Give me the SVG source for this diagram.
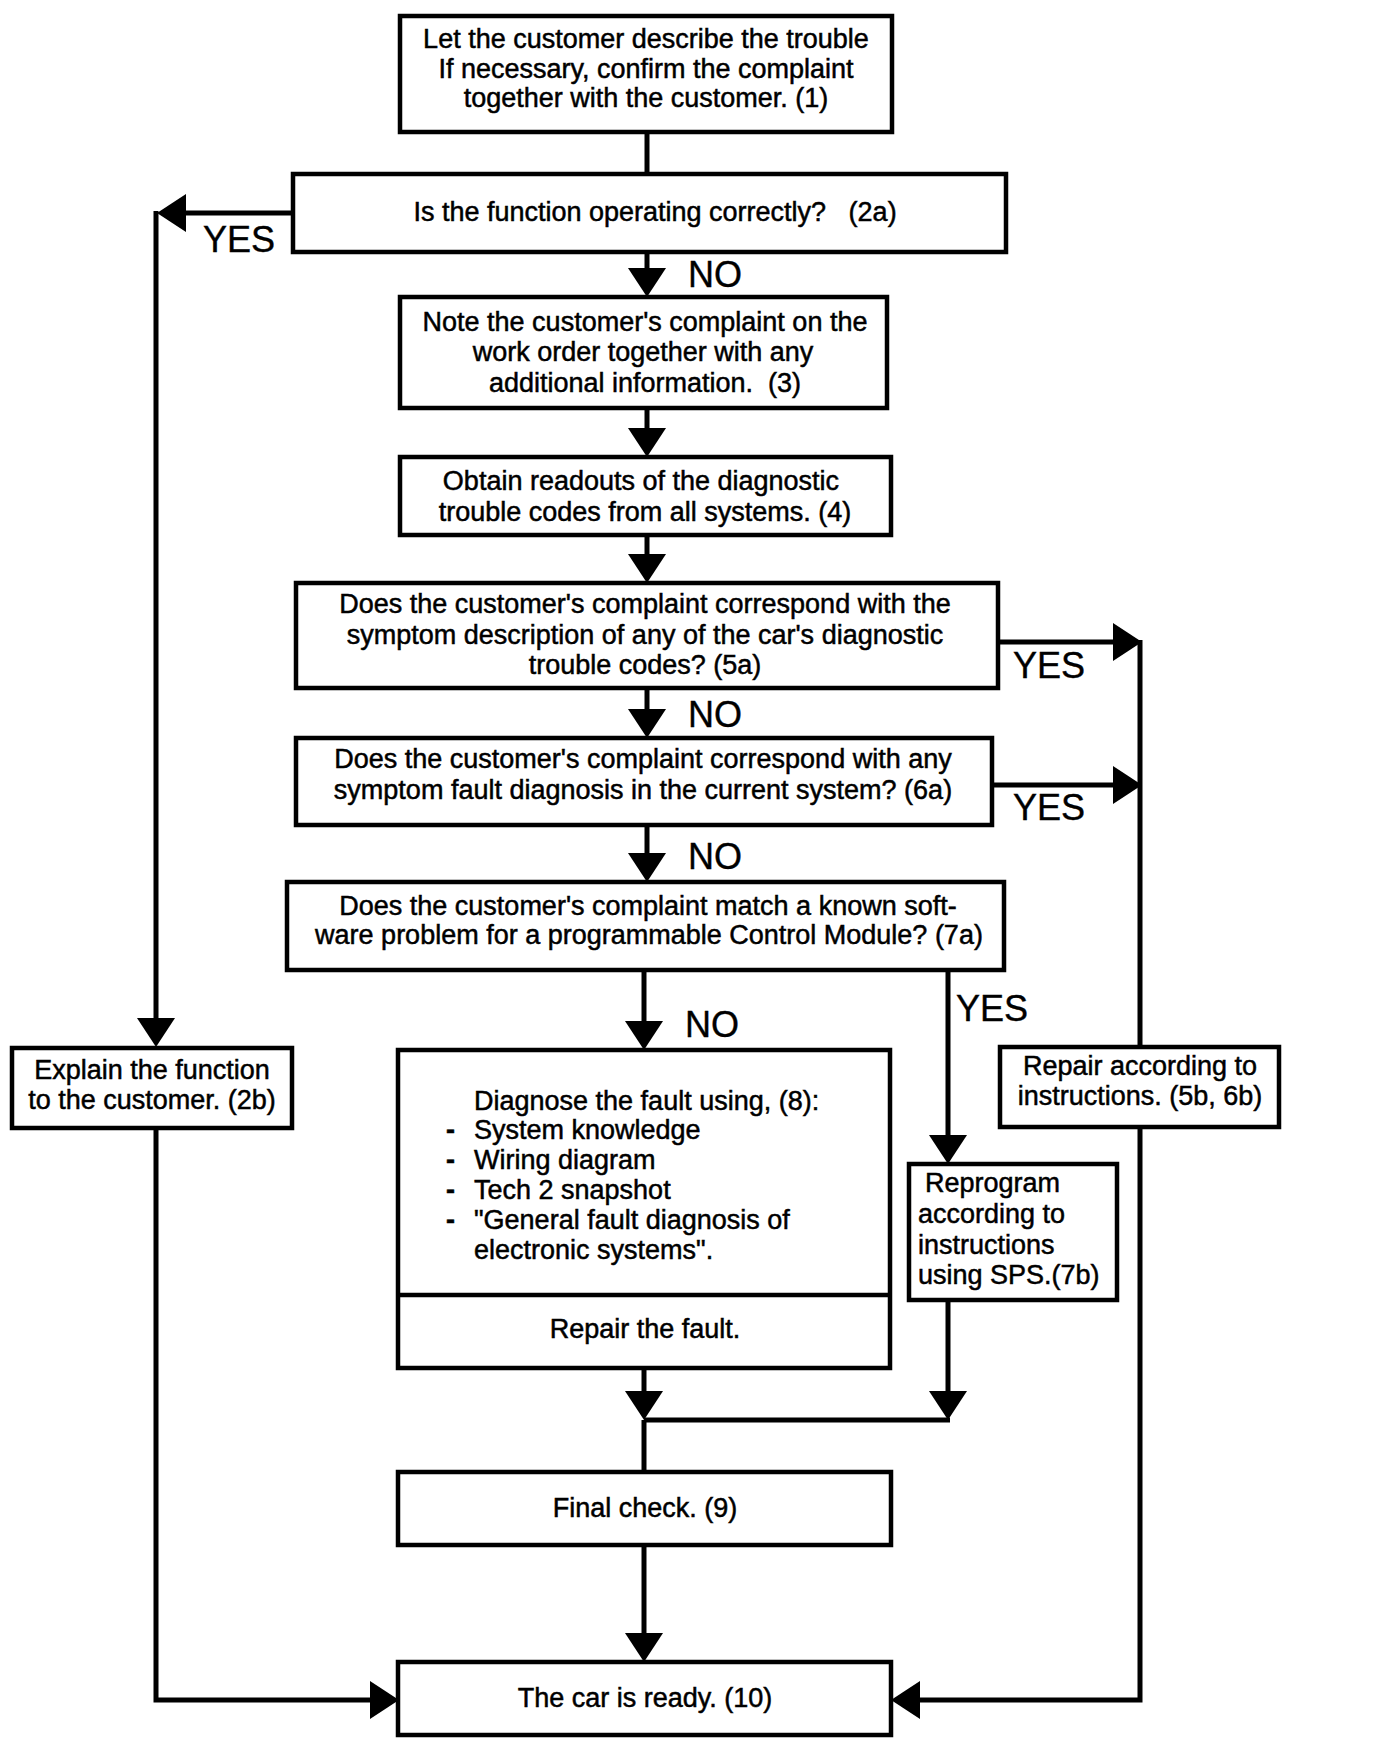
<svg xmlns="http://www.w3.org/2000/svg" width="1376" height="1744" viewBox="0 0 1376 1744">
<style>
.box{fill:#fff;stroke:#000;stroke-width:4.5}
.ln{fill:none;stroke:#000;stroke-width:5}
.t{font-family:"Liberation Sans",Arial,sans-serif;font-size:27px;fill:#000;stroke:#000;stroke-width:0.5;white-space:pre}
.c{text-anchor:middle}
.d{font-weight:bold}
.lbl{font-family:"Liberation Sans",Arial,sans-serif;font-size:36px;fill:#000;stroke:#000;stroke-width:0.4}
</style>
<defs>
<marker id="ah" markerUnits="userSpaceOnUse" markerWidth="30" markerHeight="40" refX="0" refY="19" orient="auto" overflow="visible">
<path d="M0,0 L29,19 L0,38 z" fill="#000"/>
</marker>
</defs>
<rect width="1376" height="1744" fill="#fff"/>
<g id="connectors">
<path class="ln" d="M647,132 V174"/>
<path class="ln" d="M647,252 V268" marker-end="url(#ah)"/>
<path class="ln" d="M293,213 H186" marker-end="url(#ah)"/>
<path class="ln" d="M156,211 V1018" marker-end="url(#ah)"/>
<path class="ln" d="M156,1128 V1700 H370" marker-end="url(#ah)"/>
<path class="ln" d="M647,408 V428" marker-end="url(#ah)"/>
<path class="ln" d="M647,535 V554" marker-end="url(#ah)"/>
<path class="ln" d="M647,688 V709" marker-end="url(#ah)"/>
<path class="ln" d="M998,642 H1113" marker-end="url(#ah)"/>
<path class="ln" d="M1140,640 V1047"/>
<path class="ln" d="M1140,1127 V1700 H920" marker-end="url(#ah)"/>
<path class="ln" d="M647,825 V853" marker-end="url(#ah)"/>
<path class="ln" d="M992,785 H1113" marker-end="url(#ah)"/>
<path class="ln" d="M644,970 V1021" marker-end="url(#ah)"/>
<path class="ln" d="M948,970 V1135" marker-end="url(#ah)"/>
<path class="ln" d="M644,1368 V1391" marker-end="url(#ah)"/>
<path class="ln" d="M948,1300 V1391" marker-end="url(#ah)"/>
<path class="ln" d="M644,1420 H950"/>
<path class="ln" d="M644,1420 V1472"/>
<path class="ln" d="M644,1545 V1633" marker-end="url(#ah)"/>
<text class="lbl" x="203" y="252">YES</text>
<text class="lbl" x="688" y="287">NO</text>
<text class="lbl" x="1013" y="678">YES</text>
<text class="lbl" x="688" y="727">NO</text>
<text class="lbl" x="1013" y="820">YES</text>
<text class="lbl" x="688" y="869">NO</text>
<text class="lbl" x="685" y="1037">NO</text>
<text class="lbl" x="956" y="1021">YES</text>
</g>
<g id="n1">
<rect class="box" x="400" y="16" width="492" height="116"/>
<text class="t c" x="646" y="48">Let the customer describe the trouble</text>
<text class="t c" x="646" y="78">If necessary, confirm the complaint</text>
<text class="t c" x="646" y="107">together with the customer. (1)</text>
</g>
<g id="n2a">
<rect class="box" x="293" y="174" width="713" height="78"/>
<text class="t c" x="655" y="221">Is the function operating correctly?   (2a)</text>
</g>
<g id="n3">
<rect class="box" x="400" y="297" width="487" height="111"/>
<text class="t c" x="645" y="331">Note the customer's complaint on the</text>
<text class="t c" x="643" y="361">work order together with any</text>
<text class="t c" x="645" y="392">additional information.  (3)</text>
</g>
<g id="n4">
<rect class="box" x="400" y="457" width="491" height="78"/>
<text class="t c" x="641" y="490">Obtain readouts of the diagnostic</text>
<text class="t c" x="645" y="521">trouble codes from all systems. (4)</text>
</g>
<g id="n5a">
<rect class="box" x="296" y="583" width="702" height="105"/>
<text class="t c" x="645" y="613">Does the customer's complaint correspond with the</text>
<text class="t c" x="645" y="644">symptom description of any of the car's diagnostic</text>
<text class="t c" x="645" y="674">trouble codes? (5a)</text>
</g>
<g id="n6a">
<rect class="box" x="296" y="738" width="696" height="87"/>
<text class="t c" x="643" y="768">Does the customer's complaint correspond with any</text>
<text class="t c" x="643" y="799">symptom fault diagnosis in the current system? (6a)</text>
</g>
<g id="n7a">
<rect class="box" x="287" y="882" width="717" height="88"/>
<text class="t c" x="648" y="915">Does the customer's complaint match a known soft-</text>
<text class="t c" x="649" y="944">ware problem for a programmable Control Module? (7a)</text>
</g>
<g id="n2b">
<rect class="box" x="12" y="1048" width="280" height="80"/>
<text class="t c" x="152" y="1079">Explain the function</text>
<text class="t c" x="152" y="1109">to the customer. (2b)</text>
</g>
<g id="n5b6b">
<rect class="box" x="1000" y="1047" width="279" height="80"/>
<text class="t c" x="1140" y="1075">Repair according to</text>
<text class="t c" x="1140" y="1105">instructions. (5b, 6b)</text>
</g>
<g id="n8">
<rect class="box" x="398" y="1050" width="492" height="318"/>
<path class="ln" d="M398,1295 H890" style="stroke-width:4.5"/>
<text class="t" x="474" y="1110">Diagnose the fault using, (8):</text>
<text class="t d" x="446" y="1139">-</text>
<text class="t" x="474" y="1139">System knowledge</text>
<text class="t d" x="446" y="1169">-</text>
<text class="t" x="474" y="1169">Wiring diagram</text>
<text class="t d" x="446" y="1199">-</text>
<text class="t" x="474" y="1199">Tech 2 snapshot</text>
<text class="t d" x="446" y="1229">-</text>
<text class="t" x="474" y="1229">"General fault diagnosis of</text>
<text class="t" x="474" y="1259">electronic systems".</text>
<text class="t c" x="645" y="1338">Repair the fault.</text>
</g>
<g id="n7b">
<rect class="box" x="909" y="1164" width="208" height="136"/>
<text class="t" x="925" y="1192">Reprogram</text>
<text class="t" x="918" y="1223">according to</text>
<text class="t" x="918" y="1254">instructions</text>
<text class="t" x="918" y="1284">using SPS.(7b)</text>
</g>
<g id="n9">
<rect class="box" x="398" y="1472" width="493" height="73"/>
<text class="t c" x="645" y="1517">Final check. (9)</text>
</g>
<g id="n10">
<rect class="box" x="398" y="1662" width="493" height="73"/>
<text class="t c" x="645" y="1707">The car is ready. (10)</text>
</g>
</svg>
